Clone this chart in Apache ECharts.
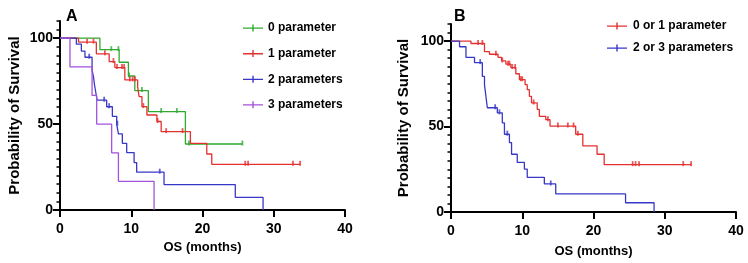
<!DOCTYPE html>
<html>
<head>
<meta charset="utf-8">
<script src="https://cdn.jsdelivr.net/npm/echarts@6/dist/echarts.min.js"></script>
<style>
  html, body { margin: 0; padding: 0; background: #fff; }
  #chart { width: 748px; height: 263px; }
</style>
</head>
<body>
<div id="chart"></div>
<script>
// ---- panel A: survival by number of parameters ----
const timesA0 = [0, 5.6, 8.3, 9.6, 10.5, 12.4, 17.6, 25.6];
const survA0 = [100, 93.3, 86, 78, 69.5, 57.3, 38.4, 38.4];
const censA0 = [7.2, 8.2, 9.7, 11.5, 14.2, 16.4, 18.1, 25.6];

const timesA1 = [0, 2.6, 5.1, 6.9, 7.7, 9.1, 10.9, 11.1, 11.5, 12.2, 13.6, 14.2, 18.3, 20.6, 21.3, 33.7];
const survA1 = [100, 97.7, 90.9, 86.4, 82.9, 75.7, 71.5, 66, 60.2, 55.3, 51.5, 45.6, 38.8, 32.6, 26.6, 26.6];
const censA1 = [3.8, 4.7, 6.3, 7.5, 8.0, 8.7, 9.0, 9.8, 10.2, 10.5, 11.7, 13.7, 14.9, 17.2, 26.0, 26.4, 32.7, 33.7];

const timesA2 = [0, 2.3, 3.0, 3.5, 4.5, 4.7, 4.85, 5.05, 5.2, 6.55, 7.35, 7.96, 8.2, 8.75, 9.36, 10.4, 10.76, 14.6, 24.6, 28.5];
const survA2 = [100, 96.5, 92.5, 88.9, 81.5, 77.5, 72.6, 67.8, 63.9, 60.1, 54.5, 49.9, 44.3, 38.8, 33.4, 27.6, 22, 14.8, 7.4, 0];
const censA2 = [4.1, 6.2, 6.9, 8.05, 14.0];

const timesA3 = [0, 1.4, 4.5, 5.15, 7.25, 8.2, 13.2];
const survA3 = [100, 83.3, 66.7, 50, 33.3, 16.7, 0];
const censA3 = [];

// ---- panel B: grouped ----
const timesB0 = [0, 2.8, 4.7, 5.4, 6.6, 7.1, 7.7, 8.4, 9.1, 9.6, 10.4, 10.7, 11.0, 11.3, 12.1, 12.4, 13.3, 13.9, 17.5, 18.5, 20.5, 21.5, 33.7];
const survB0 = [100, 98.6, 93.8, 92.3, 90.5, 88.4, 86.5, 84.5, 80.9, 77.4, 74.5, 71.6, 67.7, 63.8, 60, 56, 54, 50.3, 45.5, 38.7, 33.8, 27.7, 27.7];
const censB0 = [3.8, 4.4, 6.3, 7.2, 8.0, 8.2, 8.6, 9.0, 9.8, 10.0, 11.6, 13.6, 15.0, 16.4, 17.2, 17.8, 25.5, 25.9, 26.4, 32.6, 33.7];

const timesB1 = [0, 1.2, 2.1, 3.3, 4.4, 4.7, 4.9, 5.1, 6.5, 7.2, 7.5, 8.2, 8.5, 9.3, 10.3, 10.7, 13.1, 14.7, 24.5, 28.5];
const survB1 = [100, 96.7, 90.5, 87.4, 79.3, 74.5, 67.7, 61, 58, 52.2, 45.5, 40.6, 33.8, 29, 25.1, 20.3, 16.4, 10.6, 5.4, 0];
const censB1 = [4.1, 6.2, 6.8, 7.9, 14.0];

const namesA = ['0 parameter', '1 parameter', '2 parameters', '3 parameters'];
const namesB = ['0 or 1 parameter', '2 or 3 parameters'];

const xTicks = [0, 10, 20, 30, 40];
const yMajorTicks = [0, 50, 100];
const yMinorTicks = [5, 10, 15, 20, 25, 30, 35, 40, 45, 55, 60, 65, 70, 75, 80, 85, 90, 95, 105, 110];

const GREEN = '#2eaa2e';
const RED = '#e53030';
const BLUE = '#3838c8';
const PURPLE = '#a452dc';
const FONT = 'Liberation Sans';

// survival level of a step curve at time t
function levelAt(times, surv, t) {
  let v = surv[0];
  for (let i = 0; i < times.length; i++) {
    if (times[i] <= t) v = surv[i];
  }
  return v;
}

function curve(name, times, surv, color, axisIdx) {
  return {
    name,
    type: 'line',
    step: 'end',
    xAxisIndex: axisIdx,
    yAxisIndex: axisIdx * 2,
    data: times.map((t, i) => [t, surv[i]]),
    showSymbol: false,
    symbol: 'none',
    lineStyle: { color, width: 1.3 },
    itemStyle: { color },
    silent: true,
    z: 3,
  };
}

function censors(name, times, surv, cens, color, axisIdx) {
  return {
    name,
    type: 'scatter',
    xAxisIndex: axisIdx,
    yAxisIndex: axisIdx * 2,
    data: cens.map((t) => [t, levelAt(times, surv, t)]),
    symbol: 'rect',
    symbolSize: [1.8, 5],
    symbolOffset: [0, -1],
    itemStyle: { color },
    silent: true,
    z: 4,
  };
}

function xAxis(gridIndex, gap) {
  return {
    type: 'value',
    gridIndex,
    min: 0,
    max: 40,
    interval: 10,
    name: 'OS (months)',
    nameLocation: 'middle',
    nameGap: gap,
    nameTextStyle: { fontFamily: FONT, fontWeight: 'bold', fontSize: 13, color: '#000' },
    axisLine: { lineStyle: { color: '#000', width: 2 } },
    axisTick: { length: 7, lineStyle: { color: '#000', width: 2 }, customValues: xTicks },
    axisLabel: { fontFamily: FONT, fontWeight: 'bold', fontSize: 14, color: '#000', margin: 12, customValues: xTicks },
    splitLine: { show: false },
  };
}

function yAxes(gridIndex, gap) {
  return [
    {
      type: 'value',
      gridIndex,
      min: 0,
      max: 110,
      name: 'Probability of Survival',
      nameLocation: 'middle',
      nameGap: gap,
      nameTextStyle: { fontFamily: FONT, fontWeight: 'bold', fontSize: 15, color: '#000' },
      axisLine: { show: true, lineStyle: { color: '#000', width: 2 } },
      axisTick: { show: true, length: 7, lineStyle: { color: '#000', width: 2 }, customValues: yMajorTicks },
      axisLabel: { fontFamily: FONT, fontWeight: 'bold', fontSize: 14, color: '#000', margin: 7, customValues: yMajorTicks },
      splitLine: { show: false },
    },
    {
      type: 'value',
      gridIndex,
      min: 0,
      max: 110,
      position: 'left',
      axisLine: { show: false },
      axisTick: { show: true, length: 3.5, lineStyle: { color: '#000', width: 1.5 }, customValues: yMinorTicks },
      axisLabel: { show: false },
      splitLine: { show: false },
    },
  ];
}

const legendIcon = 'path://M0,3H20V4.3H0Z M9.3,0H10.7V7H9.3Z';
const legendText = { fontFamily: FONT, fontWeight: 'bold', fontSize: 12, color: '#000' };

const chart = echarts.init(document.getElementById('chart'), null, { renderer: 'canvas' });

const option = {
  animation: false,
  backgroundColor: '#fff',
  title: [
    { text: 'A', left: 61, top: 4, textStyle: { fontFamily: FONT, fontWeight: 'bold', fontSize: 16, color: '#000' } },
    { text: 'B', left: 449, top: 4, textStyle: { fontFamily: FONT, fontWeight: 'bold', fontSize: 16, color: '#000' } },
  ],
  grid: [
    { left: 60, right: 403, top: 21, bottom: 53 },
    { left: 451, right: 12, top: 24, bottom: 50 },
  ],
  legend: [
    {
      data: namesA,
      orient: 'vertical',
      left: 238,
      top: 17,
      itemWidth: 20,
      itemHeight: 7,
      itemGap: 13.6,
      icon: legendIcon,
      textStyle: legendText,
      selectedMode: false,
    },
    {
      data: namesB,
      orient: 'vertical',
      left: 602,
      top: 15,
      itemWidth: 22,
      itemHeight: 7,
      itemGap: 10,
      icon: legendIcon,
      textStyle: legendText,
      selectedMode: false,
    },
  ],
  xAxis: [xAxis(0, 31), xAxis(1, 33)],
  yAxis: [...yAxes(0, 38), ...yAxes(1, 40)],
  series: [
    curve(namesA[0], timesA0, survA0, GREEN, 0),
    curve(namesA[1], timesA1, survA1, RED, 0),
    curve(namesA[2], timesA2, survA2, BLUE, 0),
    curve(namesA[3], timesA3, survA3, PURPLE, 0),
    censors(namesA[0], timesA0, survA0, censA0, GREEN, 0),
    censors(namesA[1], timesA1, survA1, censA1, RED, 0),
    censors(namesA[2], timesA2, survA2, censA2, BLUE, 0),
    censors(namesA[3], timesA3, survA3, censA3, PURPLE, 0),
    curve(namesB[0], timesB0, survB0, RED, 1),
    curve(namesB[1], timesB1, survB1, BLUE, 1),
    censors(namesB[0], timesB0, survB0, censB0, RED, 1),
    censors(namesB[1], timesB1, survB1, censB1, BLUE, 1),
  ],
};

chart.setOption(option);
</script>
</body>
</html>
